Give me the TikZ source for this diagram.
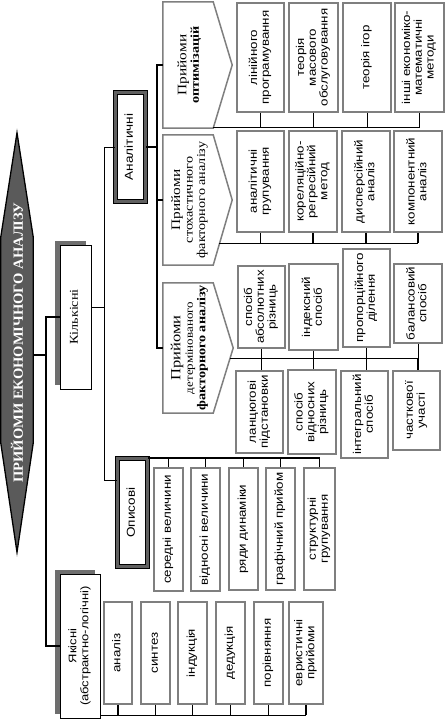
\documentclass[tikz,border=0pt]{standalone}
\usepackage{fontspec}
\setmainfont{Liberation Serif}
\setsansfont{Liberation Sans}
\usepackage{graphicx}
\usetikzlibrary{calc,shadows}
\definecolor{gboxc}{HTML}{7F7F7F}
\definecolor{gframe}{HTML}{606060}
\definecolor{shadowc}{HTML}{6E6E6E}
\definecolor{titlec}{HTML}{5A5A5A}
\newcommand\rt[1]{\rotatebox{90}{\scalebox{1.18}[1]{\begin{tabular}{@{}c@{}}#1\end{tabular}}}}
\newcommand\leafbox[6]{\node[lfbox, minimum width={(#3-#2)*1pt}, minimum height={(#5-#4)*1pt}] (#1) at ({(#2+#3)/2},{(#4+#5)/2}) {\rt{#6}};}
\begin{document}
\begin{tikzpicture}[x=1pt,y=-1pt,
  conn/.style={draw=black, line width=0.9pt},
  thk/.style={draw=black, line width=1.6pt},
  lfbox/.style={draw=gboxc, line width=1.8pt, fill=white, inner sep=0pt, font=\sffamily\fontsize{11.3}{11.8}\selectfont},
  dblbox/.style={draw=black, line width=1pt, double=gframe, double distance=3pt, fill=white, inner sep=0pt, font=\sffamily\fontsize{11.5}{12}\selectfont},
  shbox/.style={draw=black, line width=1pt, fill=white, inner sep=0pt, general shadow={fill=shadowc, shadow xshift=-5pt, shadow yshift=4pt}},
  pentrect/.style={inner sep=0pt, minimum width=50pt, minimum height=126pt},
  penta/.style={draw=gboxc, line width=1.5pt, fill=white},
  ptext/.style={inner sep=0pt, font=\rmfamily\fontsize{12}{12.5}\selectfont}]
\useasboundingbox (0,0) rectangle (446,720);

% title spindle
\node[inner sep=0pt, minimum width=32pt, minimum height=419pt] (title) at (17,342.5) {};
\draw[fill=titlec, draw=black, line width=1.3pt] (title.north) -- ($(title.north east)+(0,104)$) -- ($(title.south east)+(0,-109)$) -- (title.south) -- ($(title.south west)+(0,-109)$) -- ($(title.north west)+(0,104)$) -- cycle;
\node[text=white, inner sep=0pt, font=\rmfamily\bfseries\fontsize{14}{14}\selectfont] (titletxt) at (title.center) {\rotatebox{90}{\scalebox{1.04}[1]{ПРИЙОМИ ЕКОНОМІЧНОГО АНАЛІЗУ}}};

% level 1
\node[shbox, minimum width=31pt, minimum height=144pt, font=\rmfamily\fontsize{12}{12}\selectfont] (kil) at (75.5,317) {\rt{Кількісні}};
\node[shbox, minimum width=40pt, minimum height=144pt, font=\sffamily\fontsize{11}{12}\selectfont] (yak) at (80,646) {\rt{Якісні\\(абстрактно-логічні)}};

% level 2
\node[dblbox, minimum width=30pt, minimum height=109pt] (anal) at (130.5,147) {\rt{Аналітичні}};
\node[dblbox, minimum width=30pt, minimum height=108pt] (opys) at (132.5,512.5) {\rt{Описові}};

% pentagons
\node[pentrect] (opt) at (188,65) {};
\draw[penta] (opt.north west) -- (opt.north east) -- ($(opt.east)+(19,0)$) -- (opt.south east) -- (opt.south west) -- cycle;
\node[ptext] (optT) at ($(opt.center)+(2,0)$) {\rt{{\fontsize{13}{13}\selectfont Прийоми}\\\textbf{оптимізацій}}};

\node[pentrect, minimum height=130pt] (sto) at (188,200) {};
\draw[penta] (sto.north west) -- (sto.north east) -- ($(sto.east)+(19,0)$) -- (sto.south east) -- (sto.south west) -- cycle;
\node[ptext] (stoT) at ($(sto.center)+(2,0)$) {\rt{{\fontsize{13}{13}\selectfont Прийоми}\\стохастичного\\факторного аналізу}};

\node[pentrect, minimum height=130pt] (det) at (188,348) {};
\draw[penta] (det.north west) -- (det.north east) -- ($(det.east)+(20,0)$) -- (det.south east) -- (det.south west) -- cycle;
\node[ptext] (detT) at ($(det.center)+(2,0)$) {\rt{{\fontsize{14}{14}\selectfont Прийоми}\\{\fontsize{11}{12}\selectfont детермінованого}\\\textbf{факторного аналізу}}};

% optimisation row
\leafbox{ob1}{237}{284}{3}{112}{лінійного\\програмування}
\leafbox{ob2}{289}{338}{3}{112}{теорія\\масового\\обслуговування}
\leafbox{ob3}{343}{391}{3}{112}{теорія ігор}
\leafbox{ob4}{395}{444}{3}{112}{інші економіко-\\математичні\\методи}

% stochastic row
\leafbox{sb1}{237}{284}{131}{232}{аналітичні\\групування}
\leafbox{sb2}{289}{337}{131}{232}{кореляційно-\\регресійний\\метод}
\leafbox{sb3}{342}{390}{131}{232}{дисперсійний\\аналіз}
\leafbox{sb4}{394}{442}{131}{232}{компонентний\\аналіз}

% deterministic rows
\leafbox{db1}{238}{285}{266}{348}{спосіб\\абсолютних\\різниць}
\leafbox{db2}{289}{338}{264}{350}{індексний\\спосіб}
\leafbox{db3}{343}{390}{249}{347}{пропорційного\\ділення}
\leafbox{db4}{394}{442}{264}{343}{балансовий\\спосіб}
\leafbox{eb1}{236}{283}{371}{453}{ланцюгові\\підстановки}
\leafbox{eb2}{288}{336}{370}{454}{спосіб\\відносних\\різниць}
\leafbox{eb3}{341}{388}{371}{458}{інтегральний\\спосіб}
\leafbox{eb4}{393}{440}{371}{450}{часткової\\участі}

% descriptive children
\leafbox{pb1}{154}{183}{468}{591}{середні величини}
\leafbox{pb2}{191}{220}{468}{591}{відносні величини}
\leafbox{pb3}{229}{258}{468}{590}{ряди динаміки}
\leafbox{pb4}{266}{295}{468}{590}{графічний прийом}
\leafbox{pb5}{304}{335}{468}{590}{структурні\\групування}

% qualitative children
\leafbox{qb1}{104}{132}{602}{704}{аналіз}
\leafbox{qb2}{141}{170}{602}{704}{синтез}
\leafbox{qb3}{178}{207}{602}{704}{індукція}
\leafbox{qb4}{216}{245}{602}{704}{дедукція}
\leafbox{qb5}{254}{283}{602}{704}{порівняння}
\leafbox{qb6}{289}{323}{602}{704}{евристичні\\прийоми}

% connectors
\coordinate (s1) at (46,355);
\draw[thk] (title.east |- s1) -- (s1);
\draw[thk] (kil.west) -| (s1) |- (yak.west);

\coordinate (s2) at (104,307);
\coordinate (s3) at (104,480);
\draw[conn] (kil.east |- s2) -- (s2);
\draw[conn] (anal.west) -| (s3) -- (opys.west |- s3);

\coordinate (s4) at (157,147);
\draw[thk] (anal.east) -- (s4);
\draw[conn, line width=1.3pt] (opt.west) -| (s4) |- (det.west);
\draw[conn, line width=1.3pt] (sto.west) -- (sto.west -| s4);

% optimisation connectors
\coordinate (r1) at (213,127);
\draw[conn] (r1) -- (ob4.south |- r1);
\foreach \b in {ob1,ob2,ob3}{\draw[conn] (\b.south) -- (\b.south |- r1);}
\draw[thk] (ob4.south) -- (ob4.south |- r1);

% stochastic connectors
\coordinate (r2) at (219,243);
\draw[conn] (r2) -- (sb4.south |- r2);
\foreach \b in {sb1,sb2,sb3,sb4}{\draw[thk] (\b.south) -- (\b.south |- r2);}

% deterministic connectors
\coordinate (r3) at (230,358);
\draw[conn] (r3) -- (db4.south |- r3);
\draw[conn] (db1.south) -- (db1.south |- eb1.north);
\draw[conn] (db2.south) -- (db2.south |- eb2.north);
\draw[conn] (db3.south) -- (db3.south |- r3);
\draw[thk] (db3.south |- r3) -- (db3.south |- eb3.north);
\draw[conn] (db4.south) -- (db4.south |- r3);
\draw[thk] (db4.south |- r3) -- (db4.south |- eb4.north);

% descriptive connectors
\draw[conn, line width=1.3pt] (opys.north east) -- (pb5.north |- opys.north east);
\foreach \b in {pb1,pb2,pb3,pb4,pb5}{\draw[thk] (\b.north) -- (\b.north |- opys.north east);}

% qualitative connectors
\coordinate (r5) at (100,715);
\draw[conn] (r5) -- (qb6.south |- r5);
\foreach \b in {qb1,qb4,qb5,qb6}{\draw[thk] (\b.south) -- (\b.south |- r5);}
\foreach \b in {qb2,qb3}{\draw[conn] (\b.south) -- (\b.south |- r5);}
\end{tikzpicture}
\end{document}
